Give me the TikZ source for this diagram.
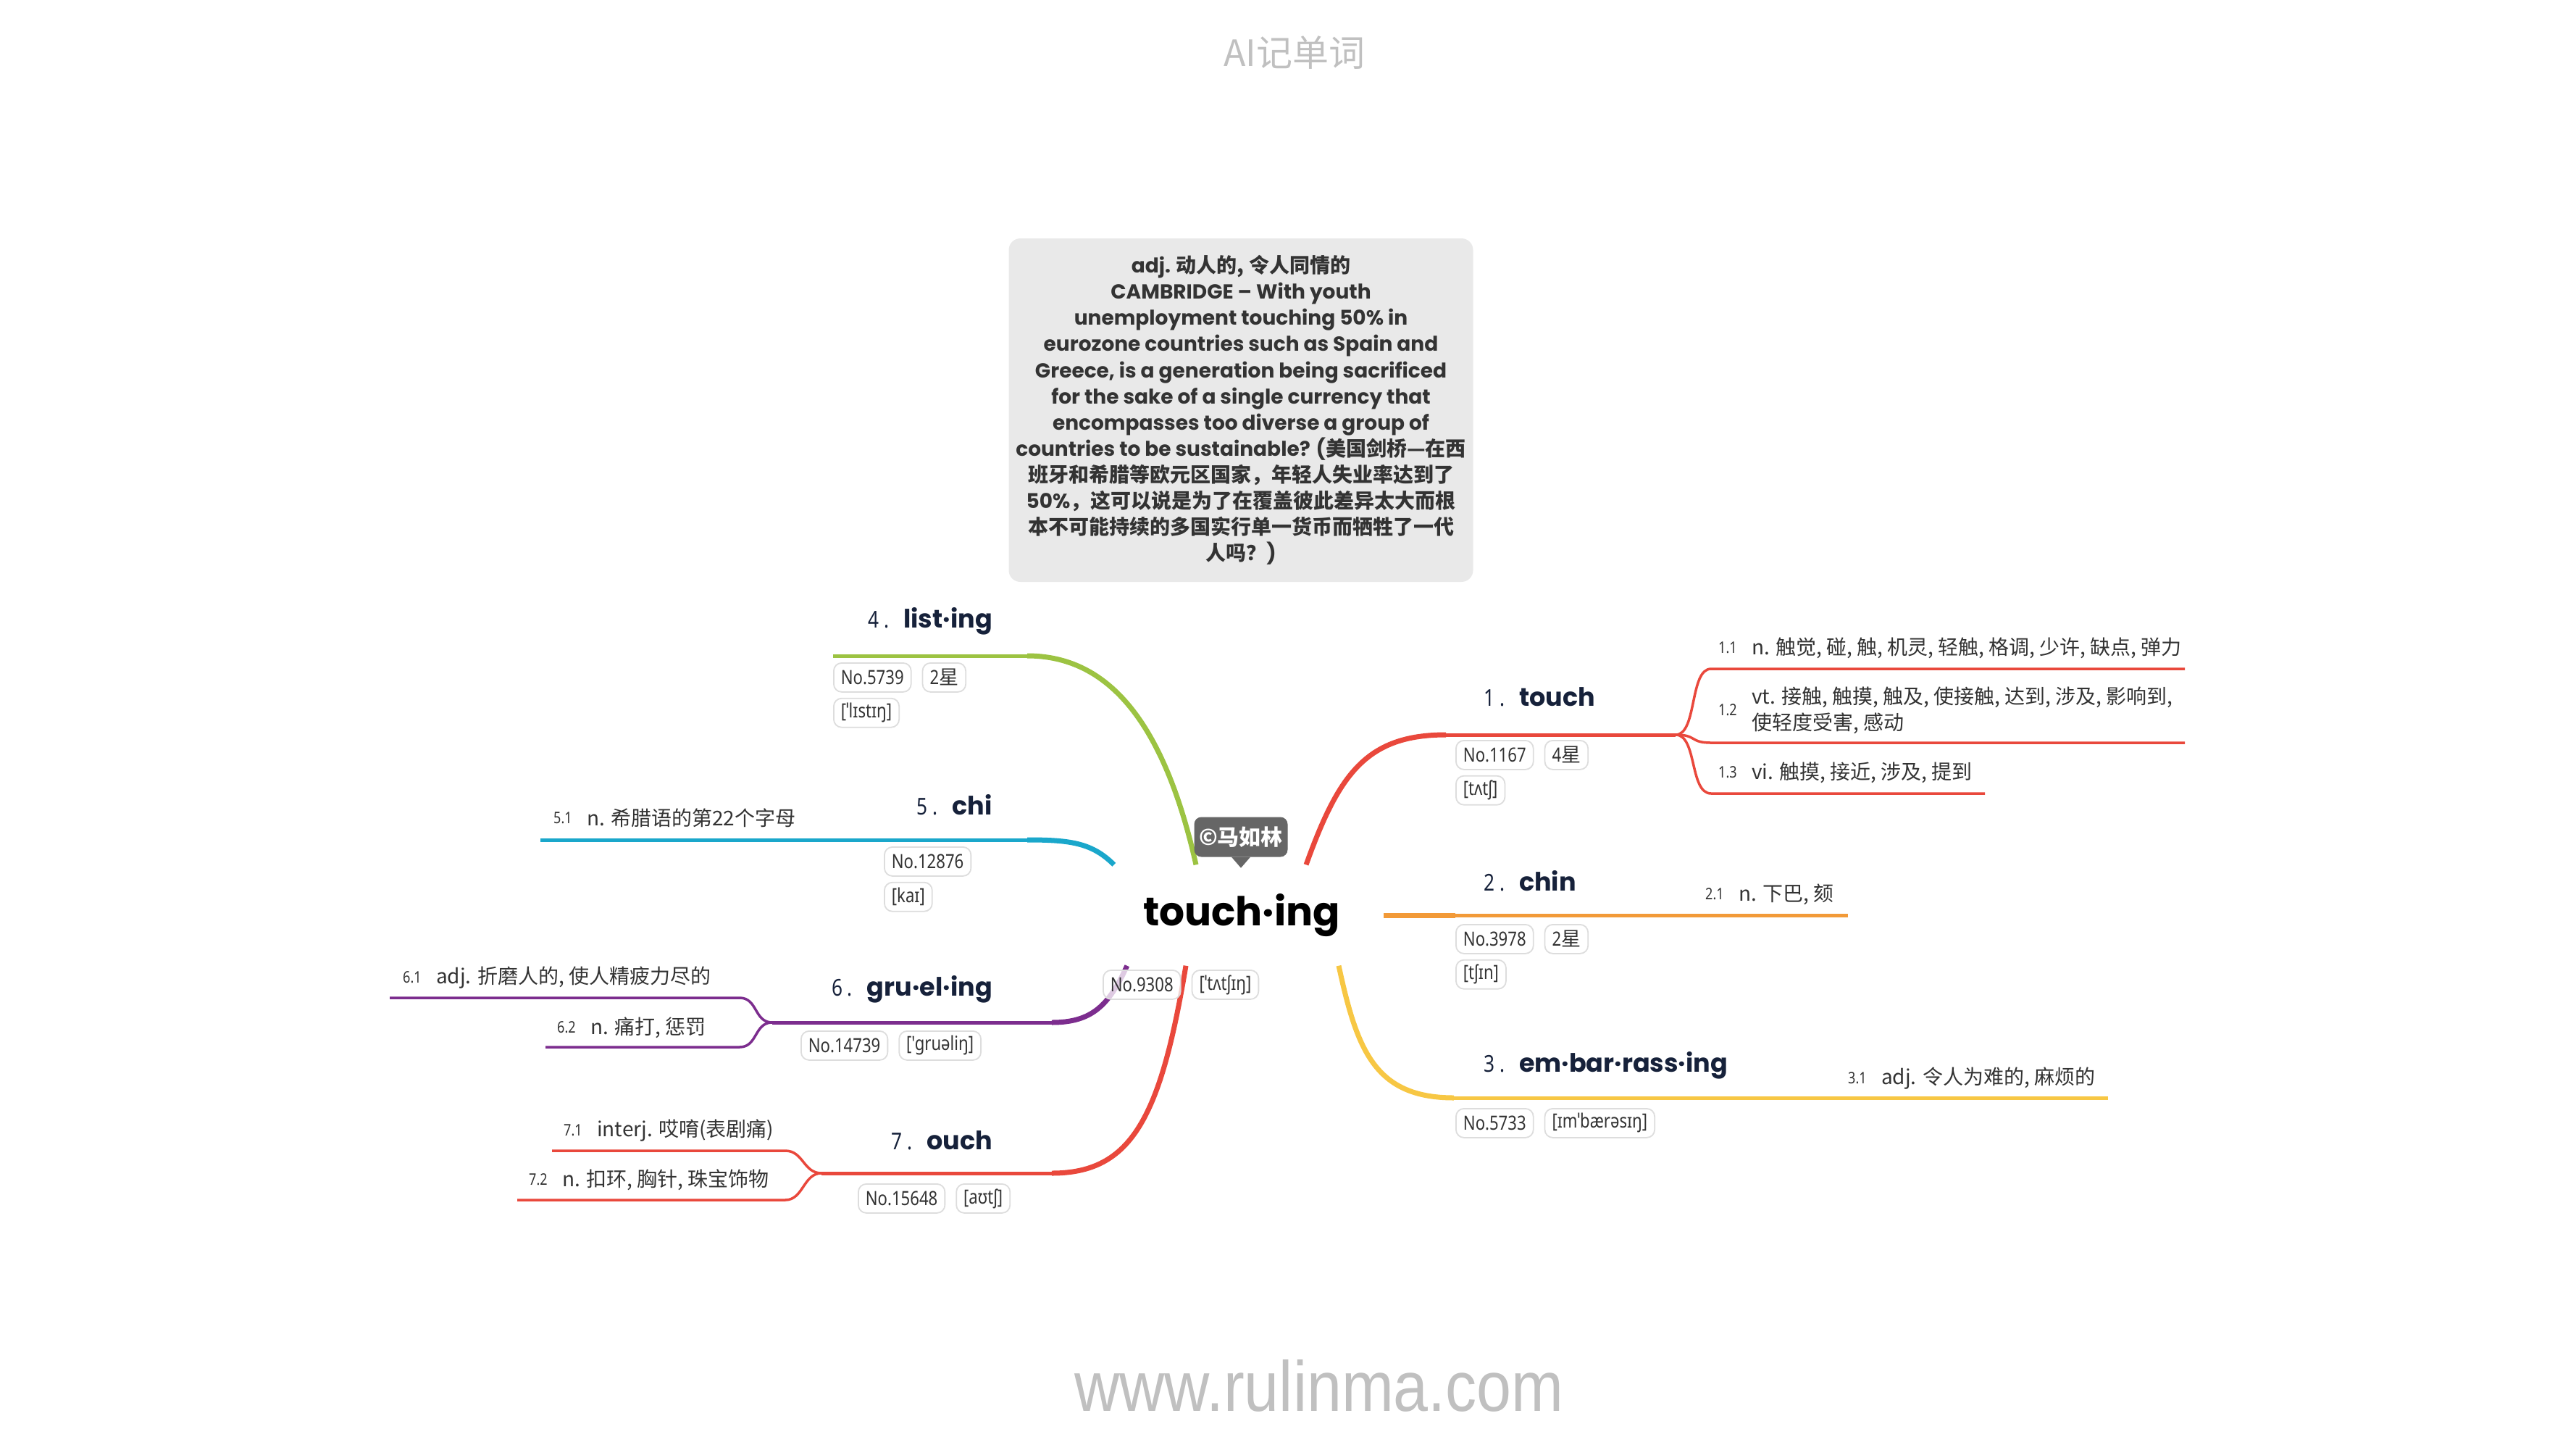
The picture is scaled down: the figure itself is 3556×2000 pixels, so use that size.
\documentclass[tikz,border=0pt]{standalone}
\usepackage{fontspec}
\setmainfont{Poppins}
\newfontfamily\cjkfont{Noto Sans CJK SC}
\newfontfamily\narrowfont[FakeStretch=0.82]{Noto Sans}
\newfontfamily\webfont[FakeStretch=0.88]{Liberation Sans}
\usetikzlibrary{positioning}
\definecolor{ink}{HTML}{333333}
\definecolor{wordink}{HTML}{16213A}
\definecolor{boxgray}{HTML}{E9E9E9}
\definecolor{badgegray}{HTML}{666666}
\definecolor{pillline}{HTML}{DDDDDD}
\definecolor{wmgray}{HTML}{C0C0C0}
\definecolor{redbr}{HTML}{E9483C}
\definecolor{orangebr}{HTML}{F29A38}
\definecolor{yellowbr}{HTML}{F7C744}
\definecolor{greenbr}{HTML}{9CC342}
\definecolor{bluebr}{HTML}{1AA7CB}
\definecolor{purplebr}{HTML}{7C2D8E}
\newcommand\idx[1]{{\narrowfont\mdseries\fontsize{32}{32}\selectfont #1 .}\hspace{20pt}}
\begin{document}
\begin{tikzpicture}[
            x=1pt, y=-1pt,
            every node/.style={inner sep=0pt, text=ink},
            watermark/.style={text=wmgray},
            quote/.style={fill=boxgray, rounded corners=16pt, minimum width=641pt, minimum height=474pt,
                align=center, font=\fontsize{28}{36.1}\selectfont\bfseries},
            root/.style={font=\fontsize{55}{55}\selectfont\bfseries, text=black, minimum width=392pt, minimum height=139pt},
            badge/.style={fill=badgegray, rounded corners=10pt, minimum width=129pt, minimum height=55pt,
                text=white, font=\cjkfont\fontsize{30}{30}\selectfont\bfseries},
            word/.style={font=\fontsize{35}{35}\selectfont\bfseries, text=wordink},
            pill/.style={draw=pillline, line width=1.8pt, rounded corners=11pt, fill=white, inner xsep=10pt,
                minimum height=40pt, font=\narrowfont\fontsize{27}{27}\selectfont},
            sense/.style={font=\cjkfont\fontsize{28}{36}\selectfont, align=left},
            senseno/.style={font=\narrowfont\fontsize{22}{22}\selectfont},
            branch/.style={line width=7pt},
            stem/.style={line width=5pt},
            twig/.style={line width=3.5pt}
            ]
        \useasboundingbox (0,0) rectangle (3556,2000);

        \node[watermark, font=\cjkfont\fontsize{50}{50}\selectfont] (title) at (1787,73) {AI记单词};
        \node[watermark, font=\webfont\fontsize{98}{98}\selectfont] (site) at (1821,1912) {www.rulinma.com};

        \node[quote] (ex) at (1713,566) {adj. {\cjkfont 动人的, 令人同情的}\\
            CAMBRIDGE – With youth\\
            unemployment touching 50\% in\\
            eurozone countries such as Spain and\\
            Greece, is a generation being sacrificed\\
            for the sake of a single currency that\\
            encompasses too diverse a group of\\
            countries to be sustainable? ({\cjkfont 美国剑桥—在西}\\
            {\cjkfont 班牙和希腊等欧元区国家，年轻人失业率达到了}\\
            50\%{\cjkfont ，这可以说是为了在覆盖彼此差异太大而根}\\
            {\cjkfont 本不可能持续的多国实行单一货币而牺牲了一代}\\
            {\cjkfont 人吗？})};

        \node[root] (root) at (1714,1263) {touch·ing};

        % ends of the branch lines
        \coordinate (s1) at (1996,1014); \coordinate (j1) at (2313,1014);
        \coordinate (b11) at (2362,923);  \coordinate (e11) at (3016,923);
        \coordinate (b12) at (2362,1025); \coordinate (e12) at (3016,1025);
        \coordinate (b13) at (2362,1095); \coordinate (e13) at (2740,1095);
        \coordinate (s2) at (2009,1263); \coordinate (e2) at (2551,1263);
        \coordinate (s3) at (2007,1515); \coordinate (e3) at (2910,1515);
        \coordinate (s4) at (1418,905);  \coordinate (e4) at (1150,905);
        \coordinate (s5) at (1418,1159); \coordinate (e5) at (746,1159);
        \coordinate (s6) at (1452,1411); \coordinate (j6) at (1066,1411);
        \coordinate (b61) at (1021,1377); \coordinate (e61) at (538,1377);
        \coordinate (b62) at (1021,1445); \coordinate (e62) at (753,1445);
        \coordinate (s7) at (1452,1619); \coordinate (j7) at (1134,1619);
        \coordinate (b71) at (1084,1588); \coordinate (e71) at (762,1588);
        \coordinate (b72) at (1084,1656); \coordinate (e72) at (714,1656);

        \draw[branch, redbr] ([xshift=89pt]root.north) .. controls +(45,-125) and +(-110,0) .. (s1);
        \draw[stem, redbr] (s1) -- (j1);
        \draw[twig, redbr] (j1) .. controls +(30,0) and +(-30,0) .. (b11) -- (e11);
        \draw[twig, redbr] (j1) .. controls +(30,0) and +(-30,0) .. (b12) -- (e12);
        \draw[twig, redbr] (j1) .. controls +(30,0) and +(-30,0) .. (b13) -- (e13);

        \draw[branch, orangebr] (root.east) -- (s2);
        \draw[stem, orangebr] (s2) -- (e2);

        \draw[branch, yellowbr] ([xshift=134pt]root.south) .. controls +(25,115) and +(-110,0) .. (s3);
        \draw[stem, yellowbr] (s3) -- (e3);

        \draw[branch, greenbr] ([xshift=-63pt]root.north) .. controls +(-45,-200) and +(110,0) .. (s4);
        \draw[stem, greenbr] (s4) -- (e4);

        \draw[branch, bluebr] ([xshift=20pt]root.north west) .. controls +(-30,-30) and +(60,0) .. (s5);
        \draw[stem, bluebr] (s5) -- (e5);

        \draw[branch, purplebr] ([xshift=38pt]root.south west) .. controls +(-25,55) and +(55,0) .. (s6);
        \draw[stem, purplebr] (s6) -- (j6);
        \draw[twig, purplebr] (j6) .. controls +(-25,0) and +(25,0) .. (b61) -- (e61);
        \draw[twig, purplebr] (j6) .. controls +(-25,0) and +(25,0) .. (b62) -- (e62);

        \draw[branch, redbr] ([xshift=-77pt]root.south) .. controls +(-35,210) and +(110,0) .. (s7);
        \draw[stem, redbr] (s7) -- (j7);
        \draw[twig, redbr] (j7) .. controls +(-25,0) and +(25,0) .. (b71) -- (e71);
        \draw[twig, redbr] (j7) .. controls +(-25,0) and +(25,0) .. (b72) -- (e72);

        \node[badge] (cr) at (1713,1155) {©马如林};
        \fill[badgegray] ([xshift=-13pt]cr.south) -- ([xshift=13pt]cr.south) -- ([yshift=-15pt]cr.south) -- cycle;

        \node[pill, fill opacity=0.75, text opacity=1, anchor=north west] (n0) at (1522,1338) {No.9308};
        \node[pill, fill opacity=0.75, text opacity=1, right=14pt of n0] (p0) {[ˈtʌtʃɪŋ]};

        % words
        \node[word, anchor=west] (w1) at (2048,962) {\idx{1}touch};
        \node[word, anchor=west] (w2) at (2048,1216) {\idx{2}chin};
        \node[word, anchor=west] (w3) at (2048,1470) {\idx{3}em·bar·rass·ing};
        \node[word, anchor=east] (w4) at (1370,857) {\idx{4}list·ing};
        \node[word, anchor=east] (w5) at (1370,1111) {\idx{5}chi};
        \node[word, anchor=east] (w6) at (1370,1365) {\idx{6}gru·el·ing};
        \node[word, anchor=east] (w7) at (1370,1574) {\idx{7}ouch};

        \node[pill, anchor=north west] (n1) at (2009,1021) {No.1167};
        \node[pill, right=14pt of n1] (r1) {4{\cjkfont 星}};
        \node[pill, below=7pt of n1.south west, anchor=north west] (p1) {[tʌtʃ]};
        \node[pill, anchor=north west] (n2) at (2009,1275) {No.3978};
        \node[pill, right=14pt of n2] (r2) {2{\cjkfont 星}};
        \node[pill, below=7pt of n2.south west, anchor=north west] (p2) {[tʃɪn]};
        \node[pill, anchor=north west] (n3) at (2009,1529) {No.5733};
        \node[pill, right=14pt of n3] (p3) {[ɪmˈbærəsɪŋ]};
        \node[pill, anchor=north west] (n4) at (1150,914) {No.5739};
        \node[pill, right=14pt of n4] (r4) {2{\cjkfont 星}};
        \node[pill, below=7pt of n4.south west, anchor=north west] (p4) {[ˈlɪstɪŋ]};
        \node[pill, anchor=north west] (n5) at (1220,1168) {No.12876};
        \node[pill, below=7pt of n5.south west, anchor=north west] (p5) {[kaɪ]};
        \node[pill, anchor=north west] (n6) at (1105,1422) {No.14739};
        \node[pill, right=14pt of n6] (p6) {['gruəliŋ]};
        \node[pill, anchor=north west] (n7) at (1184,1633) {No.15648};
        \node[pill, right=14pt of n7] (p7) {[aʊtʃ]};

        % senses
        \node[senseno, anchor=west] (k11) at (2372,894) {1.1};
        \node[sense, right=20pt of k11] (d11) {n. 触觉, 碰, 触, 机灵, 轻触, 格调, 少许, 缺点, 弹力};
        \node[senseno, anchor=west] (k12) at (2372,980) {1.2};
        \node[sense, right=20pt of k12] (d12) {vt. 接触, 触摸, 触及, 使接触, 达到, 涉及, 影响到,\\使轻度受害, 感动};
        \node[senseno, anchor=west] (k13) at (2372,1066) {1.3};
        \node[sense, right=20pt of k13] (d13) {vi. 触摸, 接近, 涉及, 提到};
        \node[senseno, anchor=west] (k21) at (2354,1234) {2.1};
        \node[sense, right=20pt of k21] (d21) {n. 下巴, 颏};
        \node[senseno, anchor=west] (k31) at (2551,1488) {3.1};
        \node[sense, right=20pt of k31] (d31) {adj. 令人为难的, 麻烦的};
        \node[senseno, anchor=west] (k51) at (764,1129) {5.1};
        \node[sense, right=20pt of k51] (d51) {n. 希腊语的第22个字母};
        \node[senseno, anchor=west] (k61) at (556,1349) {6.1};
        \node[sense, right=20pt of k61] (d61) {adj. 折磨人的, 使人精疲力尽的};
        \node[senseno, anchor=west] (k62) at (769,1418) {6.2};
        \node[sense, right=20pt of k62] (d62) {n. 痛打, 惩罚};
        \node[senseno, anchor=west] (k71) at (778,1560) {7.1};
        \node[sense, right=20pt of k71] (d71) {interj. 哎唷(表剧痛)};
        \node[senseno, anchor=west] (k72) at (730,1628) {7.2};
        \node[sense, right=20pt of k72] (d72) {n. 扣环, 胸针, 珠宝饰物};
        \end{tikzpicture}
\end{document}
